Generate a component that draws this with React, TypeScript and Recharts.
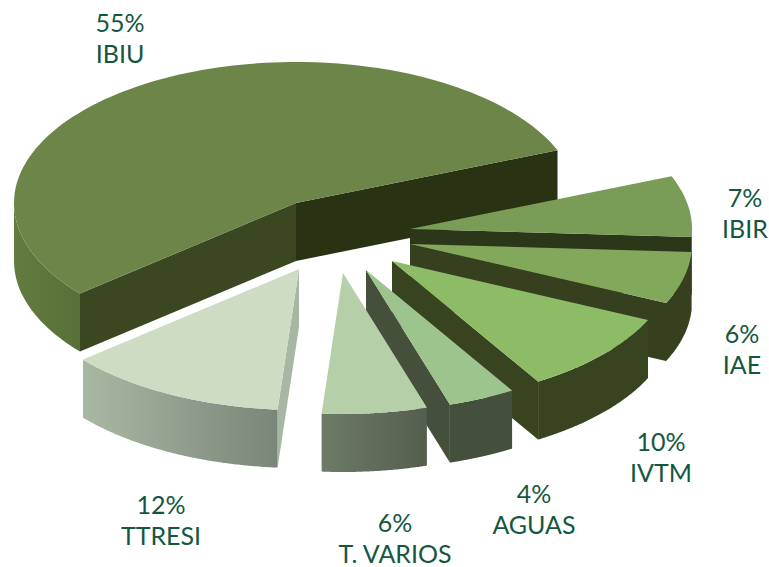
import { Pie, PieChart } from 'recharts';

// values as printed on the labels, clockwise from the big slice
const names = ['IBIU', 'IBIR', 'IAE', 'IVTM', 'AGUAS', 'T. VARIOS', 'TTRESI'];
const shares = [55, 7, 6, 10, 4, 6, 12];

const rows = names.map((name, i) => ({ name, value: shares[i] }));

// how far each slice is pulled out of the pie
const pullX = [0, 114, 114, 96, 70, 47, 3];
const pullY = [0, 26, 41, 58, 67, 70, 66];

const topColors = ['#6c8549', '#799c57', '#82a85c', '#8dbb66', '#9dc48c', '#b5d0a8', '#cddcc3'];
const startFace = ['#3a4721', '#2c3618', '#36401f', '#384420', '#444f3c', '#5c6654', '#a8b7a3'];
const endFace = ['#2a3214', '#2c3618', '#36401f', '#384420', '#444f3c', '#5c6654', '#a8b7a3'];
const wallFrom = ['#627c40', '#36401f', '#36401f', '#384420', '#444f3c', '#6d7b66', '#a9b8a2'];
const wallTo = ['#577037', '#36401f', '#36401f', '#384420', '#444f3c', '#555e4e', '#7a8679'];

const labelX = [120, 745, 742, 661, 534, 395, 161];
const labelY = [32, 207, 343, 451, 503, 532, 514];

const CX = 296;
const CY = 203;
const RADIUS = 282;
const SQUASH = 141 / 282;
const DEPTH = 58;

const rad = (a: number) => (a * Math.PI) / 180;

// the front slices sit a little further round in the perspective of the picture
function bend(a: number) {
  const t = (-a - 30) / 110;
  return t > 0 && t < 1 ? a + 2.6 * Math.sin(Math.PI * t) : a;
}

function rim(r: number, a: number): [number, number] {
  const b = rad(bend(a));
  return [r * Math.cos(b), -r * SQUASH * Math.sin(b)];
}

const toPath = (pts: [number, number][]) =>
  'M' + pts.map((p) => `${p[0].toFixed(1)},${p[1].toFixed(1)}`).join('L') + 'Z';

function Slice3D(props: any) {
  const { cx, cy, outerRadius, startAngle, endAngle, name } = props;
  const i = names.indexOf(name);
  const ox = cx + pullX[i];
  const oy = cy + pullY[i];
  const arc: [number, number][] = [];
  const wall: [number, number][] = [];
  for (let k = 0; k <= 120; k++) {
    const a = startAngle + ((endAngle - startAngle) * k) / 120;
    const p = rim(outerRadius, a);
    const pt: [number, number] = [ox + p[0], oy + p[1]];
    arc.push(pt);
    if (Math.sin(rad(a)) <= 0) wall.push(pt);
  }
  const apex: [number, number] = [ox, oy];
  const down = (p: [number, number]): [number, number] => [p[0], p[1] + DEPTH];
  const mid = arc[60];

  const faces: { edge: [number, number]; fill: string }[] = [
    { edge: arc[0], fill: startFace[i] },
    { edge: arc[120], fill: endFace[i] },
  ].filter(({ edge }) => {
    const ex = edge[0] - ox;
    const ey = edge[1] - oy;
    return (ex * (mid[1] - oy) - ey * (mid[0] - ox)) * ex < 0;
  });

  return (
    <g>
      {faces.map(({ edge, fill }, n) => (
        <path key={n} d={toPath([apex, edge, down(edge), down(apex)])} fill={fill} />
      ))}
      {wall.length > 1 && (
        <path d={toPath([...wall, ...wall.map(down).reverse()])} fill={`url(#wall${i})`} />
      )}
      <path d={toPath([apex, ...arc])} fill={topColors[i]} />
    </g>
  );
}

function SliceLabel(props: any) {
  const i = names.indexOf(props.name);
  return (
    <text
      x={labelX[i]}
      y={labelY[i]}
      textAnchor="middle"
      fill="#13573f"
      fontFamily="Lato, sans-serif"
      fontSize={25}
    >
      <tspan x={labelX[i]}>{shares[i]}%</tspan>
      <tspan x={labelX[i]} dy={30.5}>
        {names[i]}
      </tspan>
    </text>
  );
}

export default function App() {
  return (
    <div style={{ position: 'absolute', left: 0, top: 0, width: 769, height: 567, background: '#fff' }}>
      <PieChart width={769} height={567} margin={{ top: 0, right: 0, bottom: 0, left: 0 }}>
        <defs>
          {names.map((n, i) => (
            <linearGradient key={n} id={`wall${i}`} x1="0" y1="0" x2="1" y2="0">
              <stop offset="0%" stopColor={wallFrom[i]} />
              <stop offset="100%" stopColor={wallTo[i]} />
            </linearGradient>
          ))}
        </defs>
        <Pie
          data={rows}
          dataKey="value"
          nameKey="name"
          cx={CX}
          cy={CY}
          innerRadius={0}
          outerRadius={RADIUS}
          startAngle={220}
          endAngle={-140}
          stroke="none"
          shape={Slice3D}
          label={SliceLabel}
          labelLine={false}
          isAnimationActive={false}
        />
      </PieChart>
    </div>
  );
}
